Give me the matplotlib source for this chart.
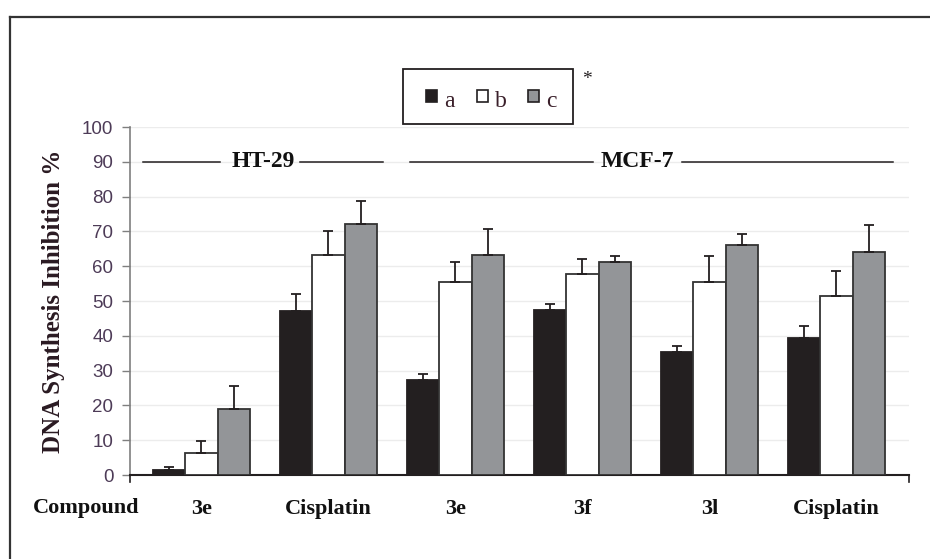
import matplotlib
matplotlib.use("Agg")
import matplotlib.pyplot as plt
from matplotlib.patches import Rectangle
from matplotlib.lines import Line2D
import numpy as np

# ---- data ----
categories = ["3e", "Cisplatin", "3e", "3f", "3l", "Cisplatin"]
series_names = ["a", "b", "c"]
vals_a = [1.3, 47.2, 27.4, 47.5, 35.4, 39.4]
vals_b = [6.3, 63.1, 55.4, 57.9, 55.4, 51.3]
vals_c = [19.1, 72.0, 63.2, 61.1, 66.0, 64.2]
err_a = [0.9, 4.8, 1.7, 1.6, 1.7, 3.3]
err_b = [3.4, 7.0, 5.8, 4.1, 7.5, 7.2]
err_c = [6.6, 6.6, 7.6, 1.8, 3.2, 7.6]
yticks = [0, 10, 20, 30, 40, 50, 60, 70, 80, 90, 100]

W, H = 930, 559
fig = plt.figure(figsize=(W / 100, H / 100), dpi=100)
fig.patch.set_facecolor("white")

def fx(px):
    return px / W

def fy(py):
    return 1 - py / H

ax = fig.add_axes([fx(130), fy(475), fx(909) - fx(130), fy(127) - fy(475)])

SERIF = ["Liberation Serif", "DejaVu Serif"]
SANS = ["Liberation Sans", "DejaVu Sans"]

x = np.arange(len(categories))
bw = 0.256
colors = ["#231f20", "#ffffff", "#939598"]
edges = ["#231f20", "#333333", "#333333"]
vals = [vals_a, vals_b, vals_c]
errs = [err_a, err_b, err_c]
for i in range(3):
    xi = x + (i - 1) * bw
    ax.bar(xi, vals[i], width=bw, color=colors[i], edgecolor=edges[i],
           linewidth=1.3, zorder=3)
    ax.errorbar(xi, vals[i], yerr=[np.zeros(len(x)), errs[i]], fmt="none",
                ecolor="#231f20", elinewidth=1.3, capsize=3.6, capthick=1.3,
                zorder=4)

ax.set_xlim(-0.563, 5.571)
ax.set_ylim(0, 100)
ax.set_yticks(yticks)
ax.set_yticklabels([str(t) for t in yticks], fontfamily=SANS, fontsize=13.5,
                   color="#4d3b57")
ax.tick_params(axis="y", direction="out", length=6, width=1, color="#7f7f7f",
               pad=6)
ax.yaxis.grid(True, color="#ececec", linewidth=1, zorder=0)
ax.set_axisbelow(True)

ax.set_xticks(x)
ax.set_xticklabels(categories, fontfamily=SERIF, fontweight="bold",
                   fontsize=16, color="#111111")
ax.tick_params(axis="x", length=0, pad=17)

for s in ["top", "right"]:
    ax.spines[s].set_visible(False)
ax.spines["left"].set_color("#7f7f7f")
ax.spines["left"].set_linewidth(1.2)
ax.spines["bottom"].set_color("#231f20")
ax.spines["bottom"].set_linewidth(1.5)

# end ticks on x axis
for xa in (0, 1):
    ax.plot([xa, xa], [0, -0.02], transform=ax.transAxes, clip_on=False,
            color="#231f20", lw=1.2)

ax.set_ylabel("DNA Synthesis Inhibition %", fontfamily=SERIF,
              fontweight="bold", fontsize=18, color="#2a1a22", labelpad=12)

# group annotations at y=90
def gx(px):
    return (px - 201.5) / 127

for (a, b) in [(143, 220), (300, 383), (410, 593), (682, 893)]:
    ax.plot([gx(a), gx(b)], [90, 90], color="#231f20", lw=1.1, zorder=5)
ax.text(gx(263.5), 90, "HT-29", fontfamily=SERIF, fontweight="bold",
        fontsize=17, ha="center", va="center", color="#111111")
ax.text(gx(637), 90, "MCF-7", fontfamily=SERIF, fontweight="bold",
        fontsize=17, ha="center", va="center", color="#111111")

# Compound label
fig.text(fx(86), fy(508), "Compound", fontfamily=SERIF, fontweight="bold",
         fontsize=16, ha="center", va="center", color="#111111")

# legend (manual)
fig.add_artist(Rectangle((fx(403), fy(124)), fx(573) - fx(403),
                         fy(69) - fy(124), transform=fig.transFigure,
                         facecolor="white", edgecolor="#231f20", lw=1.3))
sq = [(426, "a"), (477, "b"), (528, "c")]
for (px0, lab), col, ec in zip(sq, colors, edges):
    fig.add_artist(Rectangle((fx(px0), fy(102)), fx(11), fy(90) - fy(102),
                             transform=fig.transFigure, facecolor=col,
                             edgecolor="#231f20", lw=1.2))
    fig.text(fx(px0 + 18), fy(107), lab, fontfamily=SERIF, fontsize=17,
             ha="left", va="baseline", color="#3a1f2a")
fig.text(fx(587), fy(80), "*", fontfamily=SERIF, fontsize=14, ha="center",
         va="center", color="#231f20")

# figure border (top and left)
fig.add_artist(Line2D([fx(10), 1], [fy(17), fy(17)], transform=fig.transFigure,
                      color="#333333", lw=1.6))
fig.add_artist(Line2D([fx(10), fx(10)], [fy(17), 0], transform=fig.transFigure,
                      color="#333333", lw=1.6))

fig.savefig("out.png", dpi=100)
